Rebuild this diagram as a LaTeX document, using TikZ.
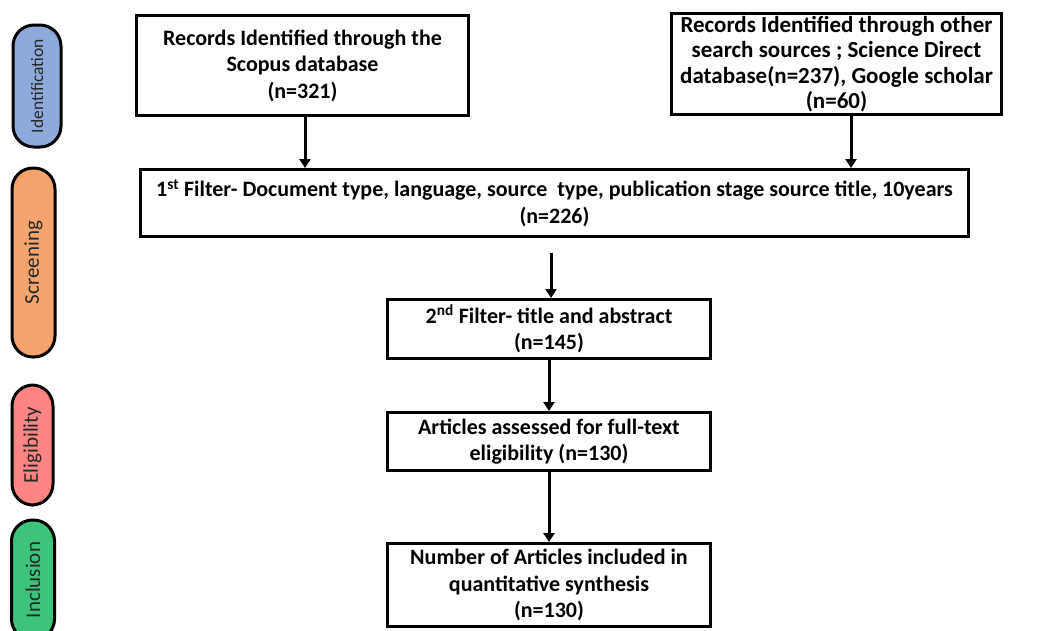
\documentclass[tikz,border=0pt]{standalone}
\usepackage{fontspec}
\setmainfont{Carlito}
\usetikzlibrary{shapes, positioning, arrows.meta, calc}

\definecolor{idblue}{HTML}{8EA9DB}
\definecolor{scrorange}{HTML}{F4A46C}
\definecolor{elipink}{HTML}{FF8585}
\definecolor{incgreen}{HTML}{3EC47A}

\begin{document}
\begin{tikzpicture}[
    x=1pt, y=-1pt,
    >={Triangle[width=11pt, length=9pt]},
    box/.style={draw, rectangle, line width=3pt, align=center, fill=white, inner sep=0pt, font=\fontsize{22}{26.5}\selectfont\bfseries},
    phase/.style={draw, rectangle, line width=3pt, rounded corners=21pt, rotate=90, inner sep=0pt, text=black!85, font=\fontsize{21}{26}\selectfont},
    flow/.style={->, line width=3pt}
]
\clip (0,0) rectangle (1049,630);

% phase labels
\node[phase, fill=idblue, minimum width=122, minimum height=48, font=\fontsize{17.5}{20}\selectfont] (Identification) at (37, 86) {Identification};
\node[phase, fill=scrorange, minimum width=189, minimum height=43] (Screening) at (33.5, 262.5) {Screening};
\node[phase, fill=elipink, minimum width=120, minimum height=41] (Eligibility) at (32.5, 445) {Eligibility};
\node[phase, fill=incgreen, minimum width=120, minimum height=43] (Inclusion) at (33, 580) {Inclusion};

% boxes
\node[box, minimum width=332, minimum height=100] (Scopus) at (302.5, 65.5) {Records Identified through the \\ Scopus database \\ (n=321)};
\node[box, minimum width=330, minimum height=101, font=\fontsize{23}{25.5}\selectfont\bfseries] (Other) at (836.5, 64) {Records Identified through other \\ search sources ; Science Direct \\ database(n=237), Google scholar \\ (n=60)};
\node[box, minimum width=828, minimum height=67] (FirstFilter) at (554.5, 203) {1\textsuperscript{st} Filter- Document type, language, source\ \ type, publication stage source title, 10years \\ (n=226)};
\node[box, minimum width=323, minimum height=59] (SecondFilter) at (549, 329) {2\textsuperscript{nd} Filter- title and abstract \\ (n=145)};
\node[box, minimum width=323, minimum height=58] (FullText) at (549, 441.5) {Articles assessed for full-text \\ eligibility (n=130)};
\node[box, minimum width=323, minimum height=83] (Included) at (549, 585) {Number of Articles included in \\ quantitative synthesis \\ (n=130)};

% arrows
\draw[flow] ([xshift=2.5pt]Scopus.south) -- ([xshift=2.5pt]Scopus.south |- FirstFilter.north);
\draw[flow] ([xshift=14.5pt]Other.south) -- ([xshift=14.5pt]Other.south |- FirstFilter.north);
\draw[flow, shorten <=15pt] ([xshift=2pt]FirstFilter.south -| SecondFilter.north) -- ([xshift=2pt]SecondFilter.north);
\draw[flow] (SecondFilter.south) -- (FullText.north);
\draw[flow] (FullText.south) -- (Included.north);
\end{tikzpicture}
\end{document}
